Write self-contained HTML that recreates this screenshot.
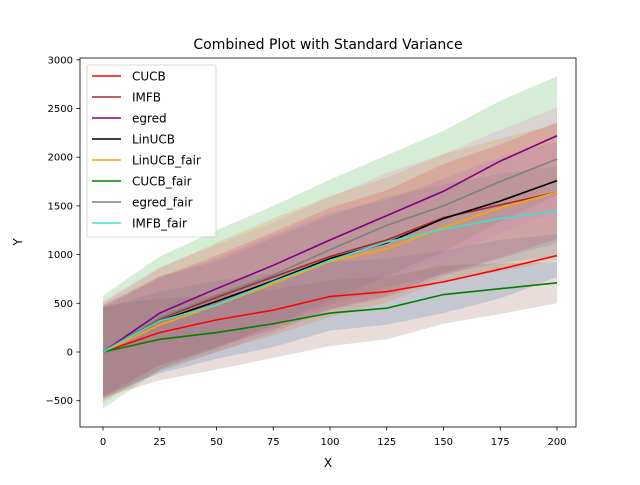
<!DOCTYPE html>
<html><head><meta charset="utf-8"><style>
body{margin:0;background:#fff;}
svg text{font-family:"DejaVu Sans","Liberation Sans",sans-serif;}
</style></head><body>
<svg id="chart" width="640" height="480" xmlns="http://www.w3.org/2000/svg">
<rect width="640" height="480" fill="#fff"/>
<text x="328" y="49" text-anchor="middle" font-size="14">Combined Plot with Standard Variance</text>
<g id="bands"></g>
<g id="lines"></g>
<rect x="80" y="58" width="496" height="369" fill="none" stroke="#000" stroke-width="0.8"/>
<g id="axes"></g>
<text x="328" y="467" text-anchor="middle" font-size="12">X</text>
<text x="22" y="242" text-anchor="middle" font-size="12" transform="rotate(-90 22 242)">Y</text>
<g id="legend"></g>
</svg>
<script>
const xs=[0,25,50,75,100,125,150,175,200];
const seriesNames=["CUCB","IMFB","egred","LinUCB","LinUCB_fair","CUCB_fair","egred_fair","IMFB_fair"];
const lineColors=["#ff0000","#a52a2a","#800080","#000000","#ffa500","#008000","#808080","#40e0d0"];
const bandColors=["#1f77b4","#ff7f0e","#2ca02c","#d62728","#9467bd","#8c564b","#e377c2","#7f7f7f"];
const cucb=[0,200,330,430,570,620,720,850,990];
const imfb=[0,340,560,770,980,1150,1380,1510,1640];
const egred=[0,400,650,890,1150,1400,1650,1960,2220];
const linucb=[0,320,520,730,960,1120,1370,1550,1760];
const linucbFair=[0,280,480,700,930,1060,1280,1480,1640];
const cucbFair=[0,130,200,290,400,450,590,650,710];
const egredFair=[0,350,580,790,1050,1300,1500,1750,1980];
const imfbFair=[0,320,480,720,940,1130,1260,1370,1450];
const stdCucb=[450,420,400,380,350,340,320,300,220];
const stdImfb=[500,520,560,600,620,640,650,680,700];
const stdEgred=[580,580,600,610,620,620,620,620,610];
const stdLinucb=[450,450,470,500,520,540,560,580,600];
const stdLinucbFair=[480,480,480,500,500,500,500,520,520];
const stdCucbFair=[470,420,380,350,340,320,300,260,210];
const stdEgredFair=[520,520,520,540,540,540,530,530,530];
const stdImfbFair=[480,460,450,450,460,460,460,460,460];
const means=[cucb,imfb,egred,linucb,linucbFair,cucbFair,egredFair,imfbFair];
const stds=[stdCucb,stdImfb,stdEgred,stdLinucb,stdLinucbFair,stdCucbFair,stdEgredFair,stdImfbFair];
const xTicks=[0,25,50,75,100,125,150,175,200];
const yTicks=[-500,0,500,1000,1500,2000,2500,3000];
const NS="http://www.w3.org/2000/svg";
const X=v=>103+v*(557-103)/200;
const Y=v=>352-v*48.7/500;
function mk(tag,attrs,parent){const e=document.createElementNS(NS,tag);for(const k in attrs)e.setAttribute(k,attrs[k]);parent.appendChild(e);return e;}
const bands=document.getElementById('bands'),lines=document.getElementById('lines'),axes=document.getElementById('axes'),legend=document.getElementById('legend');
means.forEach((m,i)=>{
  const up=xs.map((x,j)=>X(x)+','+Y(m[j]+stds[i][j]));
  const lo=xs.map((x,j)=>X(x)+','+Y(m[j]-stds[i][j])).reverse();
  const b=mk('polygon',{points:up.concat(lo).join(' '),fill:bandColors[i],'fill-opacity':0.2},bands);
  
  
});
means.forEach((m,i)=>{
  const l=mk('polyline',{points:xs.map((x,j)=>X(x)+','+Y(m[j])).join(' '),fill:'none',stroke:lineColors[i],'stroke-width':1.6},lines);
  
  
});
xTicks.forEach(t=>{
  const tk=mk('line',{x1:X(t),x2:X(t),y1:427,y2:430.5,stroke:'#000','stroke-width':0.8},axes);
  
  
  const tx=mk('text',{x:X(t),y:445,'text-anchor':'middle','font-size':10},axes);
  tx.textContent=t;
  
  
});
yTicks.forEach(t=>{
  const tk=mk('line',{x1:76.5,x2:80,y1:Y(t),y2:Y(t),stroke:'#000','stroke-width':0.8},axes);
  
  
  const tx=mk('text',{x:73,y:Y(t)+3.5,'text-anchor':'end','font-size':10},axes);
  tx.textContent=t<0?'\u2212'+(-t):t;
  
  
});
const lb=mk('rect',{x:87,y:65,width:129,height:172,rx:2,fill:'#fff','fill-opacity':0.8,stroke:'#ccc','stroke-width':0.8},legend);


seriesNames.forEach((n,i)=>{
  const y=76+i*21;
  const g=mk('g',{},legend);
  
  
  mk('line',{x1:92,x2:121,y1:y,y2:y,stroke:lineColors[i],'stroke-width':1.6},g);
  const t=mk('text',{x:132,y:y+4.5,'font-size':12},g);
  t.textContent=n;
});
</script>
</body></html>
